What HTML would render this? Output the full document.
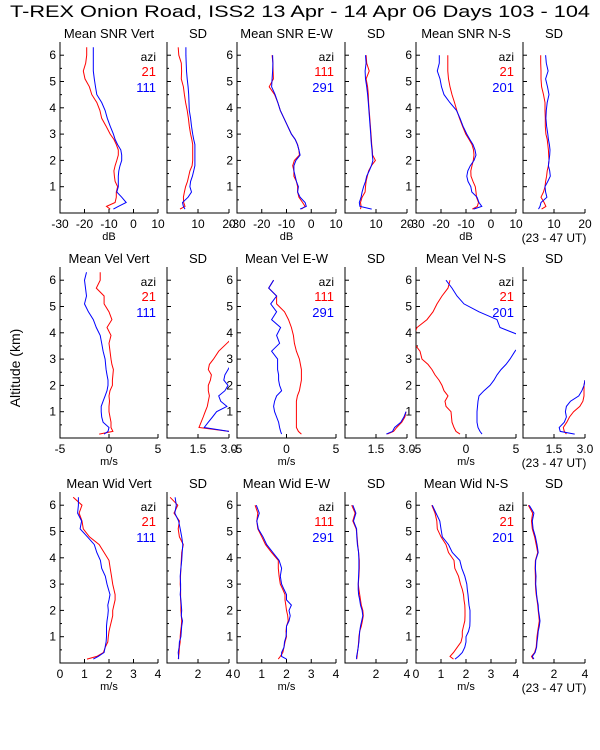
<!DOCTYPE html>
<html><head><meta charset="utf-8">
<style>
html,body{margin:0;padding:0;background:#fff;}
svg{display:block;font-family:"Liberation Sans","DejaVu Sans",sans-serif;}
</style></head>
<body>
<svg id="chart" width="600" height="750" viewBox="0 0 600 750" xmlns="http://www.w3.org/2000/svg">
<text x="10" y="17" font-size="17" textLength="580" lengthAdjust="spacingAndGlyphs" fill="#000">T-REX Onion Road, ISS2  13 Apr - 14 Apr 06 Days 103 - 104</text>
<text transform="translate(20,368) rotate(-90)" font-size="14" text-anchor="middle" fill="#000">Altitude (km)</text>
<g id="plots"></g>
</svg>
<script>
const alts = [0.15,0.25,0.4,0.6,0.8,1.0,1.2,1.4,1.6,1.8,2.0,2.2,2.4,2.6,2.8,3.0,3.3,3.6,3.9,4.2,4.5,4.8,5.1,5.4,5.7,6.0,6.3];
const N = null;
// Row 1: SNR
const snrVertRed = [-9.5,-11,-7.5,-7,-7,-6.5,-7.5,-7.8,-8,-7.5,-6.8,-6.2,-6.2,-7,-8,-9.5,-11.2,-13,-13.7,-15,-17,-18,-19.8,-20.5,-19.5,-19.1,-19.1];
const snrVertBlue = [-8.2,-6.2,-3,-4.8,-6.8,-6.2,-6.2,-6.2,-6,-5.5,-4.8,-4.8,-5.2,-6.5,-7.5,-8.2,-9.5,-10.7,-11.6,-13,-15,-15.5,-16,-16.4,-16.4,-16.4,-16.4];
const snrVertSdRed = [4.2,5.8,5.4,5.3,5.6,6,6.6,7,7.4,8.1,8.3,8.3,8.3,8.3,8,7.6,7.2,6.9,6.5,6,5.6,5.3,4.6,4.7,4.6,3.8,3.6];
const snrVertSdBlue = [5.8,5.3,5,6.8,7.9,7.4,7.6,8.2,8.6,9,9,9,9,9,8.6,8.3,7.9,7.6,7.2,7.1,7,6.8,6.5,6.3,6.2,6.1,6.1];
const snrEwRed = [-4,-2.5,-3.5,-5,-5.5,-5.5,-6,-7,-7,-7.5,-6.8,-4.8,-5,-5.5,-6.5,-8,-9.5,-11,-12.5,-13.5,-14.8,-17,-15.3,-15.4,-15.5,-15.8,N];
const snrEwBlue = [-4.5,-2,-2.5,-4.5,-5.5,-5.2,-6,-6.5,-7,-7,-6.2,-4.5,-5,-5.6,-6.5,-8,-9.5,-11,-12.5,-13.5,-14.6,-16,-15.8,-15.6,-15.5,-15.6,N];
const snrEwSdRed = [5,5.2,5,5.5,6.5,6.6,6.8,7.2,7.6,8.5,9.8,8.9,8.8,8.6,8.5,8.4,8.2,8,7.8,7.6,7.5,7.3,6.8,7.8,7,6.8,N];
const snrEwSdBlue = [8.6,4.8,4.6,5.2,5.5,6,6.6,7,7.8,8.5,9,8.8,8.7,8.5,8.4,8.3,8.1,7.9,7.7,7.5,7.3,7,6.6,6.5,6.8,6.6,N];
const snrNsRed = [-7.5,-5.5,-5,-5.8,-6,-6.3,-7.2,-8,-8.1,-7.6,-7.1,-6.8,-7,-7.6,-8.8,-10.1,-11.4,-12.6,-13.7,-14.6,-15.6,-16.4,-17,-17.3,-17.3,-17.3,N];
const snrNsBlue = [-7,-3.7,-4.8,-5.6,-7.7,-8.1,-9.2,-9.7,-9.3,-8.3,-6.8,-6,-6.4,-7.2,-8.5,-9.7,-11.2,-12.4,-13.8,-16.5,-18.8,-19.8,-20.4,-21.5,-20.7,-20.7,N];
const snrNsSdRed = [6,7.4,6.8,5.8,6.6,7.1,7.3,7.6,7.8,8.2,8.4,8.3,8.2,8,7.8,7.4,7.2,7.2,7.1,7.1,6.6,6,5.8,5.8,5.7,5.7,N];
const snrNsSdBlue = [5,5.5,5.8,7.7,7.3,7.1,8,8.8,8.6,8.2,8.4,8.6,8.7,8.5,8.2,8,7.6,7.4,7.5,7.8,8.4,7.9,7.3,8.1,7.5,7.3,N];
// Row 2: velocity
const velVertRed = [-1,0.4,0.2,0.2,0.1,0,0,0.05,0,0.1,0.35,0.35,0.4,0.45,0.3,0.2,0.1,0,0.2,-0.2,0.3,0,-0.5,-0.5,-1.3,-0.9,-0.9];
const velVertBlue = [-0.5,-0.1,0,-0.6,-0.75,-0.8,-0.8,-0.6,-0.4,-0.2,-0.1,-0.1,-0.2,-0.3,-0.35,-0.4,-0.6,-0.75,-0.9,-1.3,-1.6,-2.1,-2.5,-2.3,-2.4,-2.5,-2.3];
const velVertSdRed = [N,3.0,1.55,1.65,1.75,1.85,1.95,2.0,2.05,2.0,2.0,2.1,2.15,2.0,2.05,2.25,2.5,2.9,3.3,N,N,N,N,N,N,N,N];
const velVertSdBlue = [N,3.0,1.8,2.0,2.2,2.4,2.9,2.6,2.5,2.8,2.95,2.75,2.8,2.95,3.1,3.2,N,N,N,N,N,N,N,N,N,N,N];
const velEwRed = [1.5,1.2,1.0,1.0,1.0,1.0,1.0,1.0,1.1,1.3,1.4,1.5,1.5,1.5,1.4,1.3,1.0,0.8,0.7,0.5,0.2,-0.2,-1.0,-1.0,-1.8,-1.3,N];
const velEwBlue = [-0.5,-0.6,-0.7,-0.8,-1.0,-1.2,-1.3,-1.2,-1.0,-0.5,-0.7,-0.8,-0.8,-0.9,-0.9,-0.9,-1.5,-0.7,-1.0,-0.6,-1.5,-1.0,-1.6,-1.0,-1.8,-1.3,N];
const velEwSdRed = [2.05,2.35,2.5,2.75,2.9,2.95,N,N,N,N,N,N,N,N,N,N,N,N,N,N,N,N,N,N,N,N,N];
const velEwSdBlue = [2.0,2.3,2.4,2.7,2.85,2.95,N,N,N,N,N,N,N,N,N,N,N,N,N,N,N,N,N,N,N,N,N];
const velNsRed = [-0.6,-1.0,-1.2,-1.4,-1.45,-1.5,-2.0,-2.1,-1.8,-2.2,-2.4,-2.7,-3.1,-3.4,-3.8,-4.4,-4.6,-5.2,-5.2,-4.9,-3.9,-3.3,-2.9,-2.4,-1.8,-1.6,N];
const velNsBlue = [1.6,1.4,1.2,1.1,1.1,1.1,1.15,1.2,1.3,1.8,2.4,2.8,3.1,3.5,4.0,4.4,4.9,5.6,5.4,3.4,3.1,1.3,-0.2,-0.9,-1.4,-2.0,N];
const velNsSdRed = [2.1,2.0,1.95,2.12,2.25,2.45,2.75,2.9,2.95,2.95,2.95,3.0,N,N,N,N,N,N,N,N,N,N,N,N,N,N,N];
const velNsSdBlue = [2.5,1.8,1.75,2.0,2.1,2.05,2.1,2.3,2.7,2.85,2.95,3.0,N,N,N,N,N,N,N,N,N,N,N,N,N,N,N];
// Row 3: width
const widVertRed = [1.1,1.5,1.77,1.85,1.95,1.97,2.0,2.05,2.1,2.15,2.15,2.2,2.25,2.25,2.2,2.15,2.1,2.05,2.0,1.8,1.6,1.2,0.95,0.9,0.78,0.9,0.54];
const widVertBlue = [1.36,1.56,1.8,1.84,1.88,1.9,1.9,1.9,1.92,1.95,1.97,1.95,2.0,2.04,1.98,1.92,1.85,1.7,1.65,1.5,1.4,1.12,0.82,0.88,0.72,0.75,0.75];
const widVertSdRed = [0.73,0.75,0.78,0.8,0.85,0.85,0.88,0.92,0.95,0.92,0.9,0.9,0.88,0.88,0.88,0.85,0.87,0.9,0.92,0.95,1.05,0.8,0.72,0.8,0.45,0.7,0.2];
const widVertSdBlue = [0.75,0.75,0.72,0.78,0.8,0.9,0.92,0.95,1.0,0.92,0.95,0.92,0.9,0.85,0.88,0.88,0.85,0.9,0.95,0.98,1.02,0.95,0.85,0.75,0.5,0.6,0.52];
const widEwRed = [1.67,1.75,1.85,1.9,1.94,2.0,1.98,2.0,2.07,2.05,2.0,1.97,1.94,1.94,1.85,1.75,1.7,1.67,1.67,1.4,1.15,1.0,0.84,0.8,0.84,0.73,N];
const widEwBlue = [2.0,1.8,1.8,1.9,1.92,1.98,2.0,2.0,2.1,2.15,2.1,2.2,2.0,2.0,1.9,1.8,1.75,1.8,1.7,1.45,1.2,1.05,0.86,0.8,0.9,0.78,N];
const widEwSdRed = [0.75,0.78,0.8,0.85,0.88,0.9,0.95,1.05,1.12,1.18,1.15,1.05,1.0,0.95,0.9,0.86,0.9,0.92,0.92,0.88,0.82,0.78,0.72,0.5,0.65,0.43,N];
const widEwSdBlue = [0.75,0.75,0.8,0.85,0.9,0.92,0.95,1.0,1.08,1.15,1.1,1.0,0.95,0.88,0.85,0.85,0.88,0.9,0.9,0.88,0.8,0.76,0.75,0.55,0.7,0.5,N];
const widNsRed = [1.5,1.36,1.5,1.65,1.8,1.85,1.85,1.9,1.95,1.96,1.96,1.95,1.92,1.9,1.85,1.78,1.7,1.55,1.52,1.3,1.2,1.0,0.85,0.83,0.76,0.63,N];
const widNsBlue = [1.56,1.7,1.85,1.95,2.0,2.0,2.1,2.15,2.16,2.16,2.16,2.12,2.1,2.08,2.05,2.03,1.95,1.83,1.75,1.45,1.3,1.05,1.0,0.95,0.8,0.65,N];
const widNsSdRed = [0.65,0.55,0.75,0.85,0.88,0.9,0.95,1.0,1.05,1.02,0.98,0.95,0.9,0.85,0.82,0.8,0.8,0.78,0.8,0.95,0.85,0.75,0.6,0.55,0.62,0.34,N];
const widNsSdBlue = [0.7,0.6,0.78,0.88,0.9,0.95,0.98,1.05,1.1,1.05,1.0,0.98,0.92,0.88,0.85,0.82,0.84,0.8,0.82,0.98,0.9,0.8,0.65,0.6,0.7,0.4,N];

const panelTitles = [["Mean SNR Vert","SD","Mean SNR E-W","SD","Mean SNR N-S","SD"],
 ["Mean Vel Vert","SD","Mean Vel E-W","SD","Mean Vel N-S","SD"],
 ["Mean Wid Vert","SD","Mean Wid E-W","SD","Mean Wid N-S","SD"]];
const legendAzis = [["21","111"],["111","291"],["21","201"]];
const units = ["dB","m/s","m/s"];
const mainDomains = [[-30,10],[-5,5],[0,4]];
const sdDomains = [[0,20],[0,3],[0,4]];
const mainTicks = [[-30,-20,-10,0,10],[-5,0,5],[0,1,2,3,4]];
const mainTickLabels = [["-30","-20","-10","0","10"],["-5","0","5"],["0","1","2","3","4"]];
const sdTicks = [[10,20],[1.5,3],[2,4]];
const sdTickLabels = [["10","20"],["1.5","3.0"],["2","4"]];
const altTicks = [1,2,3,4,5,6];
const seriesData = [
 [[snrVertRed,snrVertBlue],[snrVertSdRed,snrVertSdBlue],[snrEwRed,snrEwBlue],[snrEwSdRed,snrEwSdBlue],[snrNsRed,snrNsBlue],[snrNsSdRed,snrNsSdBlue]],
 [[velVertRed,velVertBlue],[velVertSdRed,velVertSdBlue],[velEwRed,velEwBlue],[velEwSdRed,velEwSdBlue],[velNsRed,velNsBlue],[velNsSdRed,velNsSdBlue]],
 [[widVertRed,widVertBlue],[widVertSdRed,widVertSdBlue],[widEwRed,widEwBlue],[widEwSdRed,widEwSdBlue],[widNsRed,widNsBlue],[widNsSdRed,widNsSdBlue]]];

const NS = "http://www.w3.org/2000/svg";
const root = document.getElementById("plots");
const panelX = [[60,158],[167,229],[237,336],[345,407],[416,516],[523,585]];
function mk(tag, attrs, parent){ const e=document.createElementNS(NS,tag); for(const k in attrs) e.setAttribute(k,attrs[k]); parent.appendChild(e); return e; }

for(let r=0;r<3;r++){
  const off = r*225;
  const yBot = 213+off, yTop = 42+off;
  const yScale = a => yBot - a*26.3;
  for(let p=0;p<6;p++){
    const isSd = p%2===1;
    const [x0,x1] = panelX[p];
    const dom = isSd ? sdDomains[r] : mainDomains[r];
    const xScale = v => x0 + (v-dom[0])/(dom[1]-dom[0])*(x1-x0);
    const g = mk("g",{},root);
    
    
    const cid = "clip"+r+"_"+p;
    const cp = mk("clipPath",{id:cid},g);
    mk("rect",{x:x0,y:yTop,width:x1-x0,height:yBot-yTop},cp);
    const ax = mk("path",{d:`M${x0},${yTop}V${yBot}H${x1}`,stroke:"#000","stroke-width":1,fill:"none"},g);
    
    
    for(const t of altTicks){
      const y = yScale(t);
      mk("line",{x1:x0,x2:x0+4,y1:y,y2:y,stroke:"#000"},g);
      if(!isSd){
        const tl = mk("text",{x:x0-4,y:y+4,"font-size":12,"text-anchor":"end",fill:"#000"},g);
        tl.textContent = String(t);
        
        
      }
    }
    for(let a=0.5;a<6.4;a+=1){ const y=yScale(a); mk("line",{x1:x0,x2:x0+2,y1:y,y2:y,stroke:"#000"},g); }
    const ticks = isSd ? sdTicks[r] : mainTicks[r];
    const tlabels = isSd ? sdTickLabels[r] : mainTickLabels[r];
    ticks.forEach((t,i)=>{
      const x = xScale(t);
      mk("line",{x1:x,x2:x,y1:yBot,y2:yBot-4,stroke:"#000"},g);
      const tl = mk("text",{x:x,y:yBot+15,"font-size":12,"text-anchor":"middle",fill:"#000"},g);
      tl.textContent = tlabels[i];
      
      
    });
    const ttl = mk("text",{x:(x0+x1)/2,y:38+off,"font-size":13,"text-anchor":"middle",fill:"#000"},g);
    ttl.textContent = panelTitles[r][p];
    
    
    if(!isSd){
      const u = mk("text",{x:(x0+x1)/2,y:yBot+27,"font-size":11,"text-anchor":"middle",fill:"#000"},g);
      u.textContent = units[r];
      
      
      const az = legendAzis[p/2];
      const l0 = mk("text",{x:x1-2,y:61+off,"font-size":12,"text-anchor":"end",fill:"#000"},g);
      l0.textContent = "azi";
      
      
      const l1 = mk("text",{x:x1-2,y:76+off,"font-size":13,"text-anchor":"end",fill:"#f00"},g);
      l1.textContent = az[0];
      
      
      const l2 = mk("text",{x:x1-2,y:92+off,"font-size":13,"text-anchor":"end",fill:"#00f"},g);
      l2.textContent = az[1];
      
      
    }
    if(p===5){
      const ut = mk("text",{x:554,y:yBot+29,"font-size":12,"text-anchor":"middle",fill:"#000"},g);
      ut.textContent = "(23 - 47 UT)";
      
      
    }
    const colors = ["#f00","#00f"];
    seriesData[r][p].forEach((vals,si)=>{
      let d = "", pen = false;
      vals.forEach((v,i)=>{
        if(v===null){ pen=false; return; }
        d += (pen?"L":"M") + xScale(v).toFixed(1) + "," + yScale(alts[i]).toFixed(1);
        pen = true;
      });
      const line = mk("path",{d:d,stroke:colors[si],"stroke-width":1,fill:"none","clip-path":`url(#${cid})`},g);
      
      
    });
  }
}
</script>
</body></html>
